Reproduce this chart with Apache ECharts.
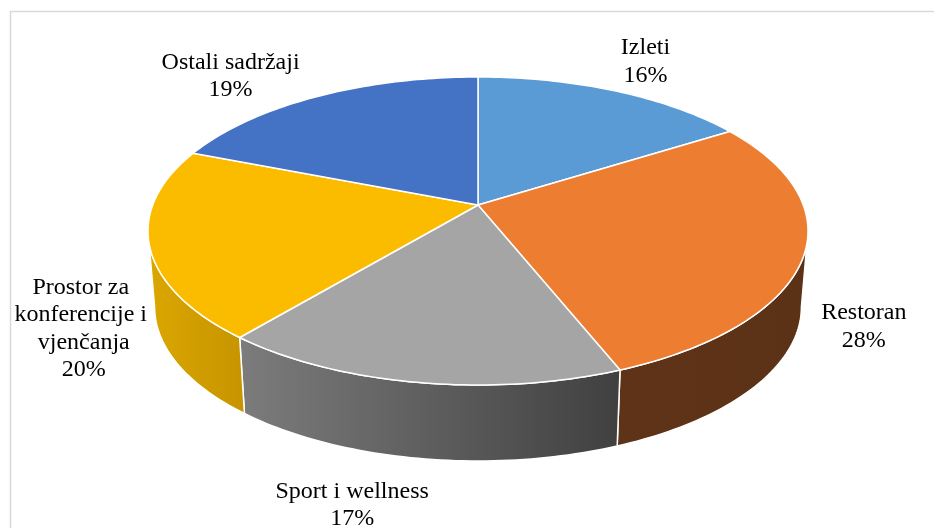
<!DOCTYPE html>
<html>
<head>
<meta charset="utf-8">
<script src="https://cdn.jsdelivr.net/npm/echarts@6.0.0/dist/echarts.min.js"></script>
<style>
    html, body { margin: 0; padding: 0; background: #fff; }
    #chart { width: 934px; height: 528px; }
</style>
</head>
<body>
<div id="chart"></div>
<script>
// podaci
const categories = ['Izleti', 'Restoran', 'Sport i wellness', 'Prostor za konferencije i vjenčanja', 'Ostali sadržaji']
const shares = [16, 28, 17, 20, 19]

// boje (gornja ploha i bočna strana: lijevo -> desno)
const topColors = ['#5b9bd5', '#ed7d31', '#a5a5a5', '#fbbc00', '#4472c4']
const sideColors = [
    ['#3f6d96', '#3f6d96'],
    ['#5e3317', '#5c3216'],
    ['#7c7c7c', '#404040'],
    ['#dba700', '#c69400'],
    ['#2f5189', '#2f5189']
]
// pomak natpisa od ruba kriške
const labelShift = [[31, -29], [66, -3], [-66, 47], [-72, 9], [-87, -20]]

// 3D geometrija (perspektiva kao u Excelu)
const CX = 478, CY = 231, RX = 330, RY = 154
const T = -0.1688      // pomak središta u perspektivi
const DEPTH = 76
const SX = 0.98        // donja ploha malo uža
const FRONT0 = Math.acos(T)
const FRONT1 = 2 * Math.PI - FRONT0

const total = shares.reduce((a, b) => a + b, 0)
const starts = []
let acc = 0
shares.forEach(v => {
    starts.push(acc / total * 2 * Math.PI)
    acc += v
})

function project(theta, r, bottom) {
    const u = r * Math.sin(theta)
    const v = -r * Math.cos(theta)
    const den = 1 + T * v
    const X = u * Math.sqrt(1 - T * T) / den
    const Y = (v + T) / den
    return [
        CX + RX * X * (bottom ? SX : 1),
        CY + RY * Y + (bottom ? DEPTH : 0)
    ]
}

function arc(a0, a1, bottom) {
    const n = Math.max(8, Math.ceil(Math.abs(a1 - a0) / 0.02))
    const pts = []
    for (let k = 0; k <= n; k++) {
        pts.push(project(a0 + (a1 - a0) * k / n, 1, bottom))
    }
    return pts
}

function renderItem(params, api) {
    const i = params.dataIndex
    const a0 = starts[i]
    const a1 = a0 + api.value(0) / total * 2 * Math.PI
    const children = []

    // bočna strana (samo prednji dio)
    const s0 = Math.max(a0, FRONT0)
    const s1 = Math.min(a1, FRONT1)
    if (s1 > s0) {
        children.push({
            type: 'polygon',
            shape: { points: arc(s0, s1, false).concat(arc(s1, s0, true)) },
            style: {
                fill: {
                    type: 'linear', x: 0, y: 0, x2: 1, y2: 0,
                    colorStops: [
                        { offset: 0, color: sideColors[i][0] },
                        { offset: 1, color: sideColors[i][1] }
                    ]
                },
                stroke: '#ffffff',
                lineWidth: 1.5,
                lineJoin: 'round'
            }
        })
    }

    // gornja ploha
    children.push({
        type: 'polygon',
        shape: { points: [project(0, 0, false)].concat(arc(a0, a1, false)) },
        style: { fill: topColors[i], stroke: '#ffffff', lineWidth: 1.5, lineJoin: 'round' }
    })

    // natpis
    const mid = (a0 + a1) / 2
    const front = mid > FRONT0 && mid < FRONT1
    const p = project(mid, 1, front)
    children.push({
        type: 'text',
        x: p[0] + labelShift[i][0],
        y: p[1] + labelShift[i][1],
        style: {
            text: categories[i] + '\n' + api.value(0) + '%',
            fill: '#000000',
            fontFamily: 'Liberation Serif',
            fontSize: 24,
            lineHeight: 27.5,
            width: 170,
            overflow: 'break',
            align: 'center',
            verticalAlign: 'middle'
        }
    })

    return { type: 'group', children: children }
}

const chart = echarts.init(document.getElementById('chart'))
chart.setOption({
    backgroundColor: '#ffffff',
    animation: false,
    graphic: [{
        type: 'rect',
        shape: { x: 10.5, y: 11.5, width: 960, height: 560 },
        style: { fill: 'none', stroke: '#d9d9d9', lineWidth: 1.5 },
        silent: true
    }],
    series: [{
        type: 'custom',
        coordinateSystem: 'none',
        renderItem: renderItem,
        data: shares.map((v, i) => ({ name: categories[i], value: v }))
    }]
})
</script>
</body>
</html>
